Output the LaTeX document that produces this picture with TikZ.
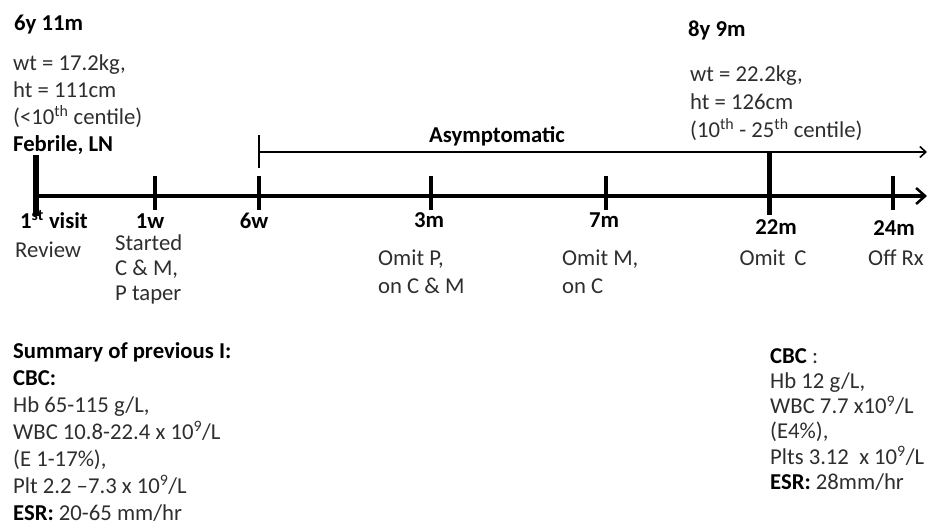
\documentclass[tikz,border=0pt]{standalone}
\usepackage{fontspec}
\setmainfont{Carlito}
\usetikzlibrary{arrows.meta}
\begin{document}
\begin{tikzpicture}[x=1pt,y=-1pt,
  txt/.style={inner sep=0pt, text=black!82, align=left, font=\fontsize{22.7}{27}\selectfont},
  txtb/.style={txt, text=black, font=\fontsize{22.7}{27}\selectfont\bfseries},
  axisline/.style={line width=3.5pt, -{Straight Barb[length=9pt,width=16pt,line width=2.5pt]}},
  asymline/.style={line width=1.8pt, -{Straight Barb[length=6pt,width=11pt,line width=1.6pt]}},
  tick/.style={line width=3.2pt},
  bigtick/.style={line width=6pt}]
\useasboundingbox (0,0) rectangle (928,527);
% top left
\node[txtb, anchor=base west] (age1) at (14,31) {6y 11m};
\node[txt, anchor=base west] (meas1) at (13,151) {wt = 17.2kg,\\ht = 111cm\\(<10\textsuperscript{th} centile)\\\textbf{\color{black}Febrile, LN}};
% top right
\node[txtb, anchor=base west] (age2) at (688,37) {8y 9m};
\node[txt, anchor=base west, font=\fontsize{22.7}{28}\selectfont] (meas2) at (690,137) {wt = 22.2kg,\\ht = 126cm\\(10\textsuperscript{th} - 25\textsuperscript{th} centile)};
\node[txtb, anchor=base] (asym) at (497,142) {Asymptomatic};
% tick labels
\node[txt, anchor=base west] (l0) at (20,228) {\textbf{\color{black}1\textsuperscript{st} visit}};
\node[txt, anchor=base west] (r0) at (15,257) {Review};
\node[txtb, anchor=base] (l1) at (150,228) {1w};
\node[txt, anchor=base west, font=\fontsize{22.7}{25}\selectfont] (r1) at (115,300) {Started\\C \& M,\\P taper};
\node[txtb, anchor=base] (l2) at (254,228) {6w};
\node[txtb, anchor=base] (l3) at (429,227) {3m};
\node[txt, anchor=base west, font=\fontsize{22.7}{28}\selectfont] (r3) at (378,293) {Omit P,\\on C \& M};
\node[txtb, anchor=base] (l4) at (604,227) {7m};
\node[txt, anchor=base west, font=\fontsize{22.7}{28}\selectfont] (r4) at (562,293) {Omit M,\\on C};
\node[txtb, anchor=base] (l5) at (776,234) {22m};
\node[txt, anchor=base] (r5) at (773,265) {Omit\, C};
\node[txtb, anchor=base] (l6) at (894,235) {24m};
\node[txt, anchor=base] (r6) at (896,265) {Off Rx};
% bottom blocks
\node[txt, anchor=base west] (sum) at (13,520) {\textbf{\color{black}Summary of previous I:}\\\textbf{\color{black}CBC:}\\Hb 65-115 g/L,\\WBC 10.8-22.4 x 10\textsuperscript{9}/L\\(E 1-17\%),\\Plt 2.2 –7.3 x 10\textsuperscript{9}/L\\\textbf{\color{black}ESR:} 20-65 mm/hr};
\node[txt, anchor=base west, font=\fontsize{22.7}{25.3}\selectfont] (cbc2) at (770,489.5) {\textbf{\color{black}CBC} :\\Hb 12 g/L,\\WBC 7.7 x10\textsuperscript{9}/L\\(E4\%),\\Plts 3.12\ \ x 10\textsuperscript{9}/L\\\textbf{\color{black}ESR:} 28mm/hr};
% axis
\coordinate (a0) at (34,196);
\coordinate (aend) at (927,196);
\draw[axisline] (a0) -- (aend);
\coordinate (t0) at (36,196);
\coordinate (t1) at (155,196);
\coordinate (t2) at (259,196);
\coordinate (t3) at (431,196);
\coordinate (t4) at (606,196);
\coordinate (t5) at (769,196);
\coordinate (t6) at (893,196);
\draw[bigtick] (t0) ++(0,-41) -- ++(0,61);
\foreach \t in {t1,t2,t3,t4,t6}{\draw[tick] (\t) ++(0,-20) -- ++(0,34);}
\draw[bigtick, line width=5pt] (t5) ++(0,-43) -- ++(0,62);
% asymptomatic bracket
\coordinate (b0) at (259,135);
\coordinate (b1) at (259,168);
\coordinate (s0) at (259,152);
\coordinate (s1) at (927,152);
\draw[line width=1.8pt] (b0) -- (b1);
\draw[asymline] (s0) -- (s1);
\end{tikzpicture}
\end{document}
